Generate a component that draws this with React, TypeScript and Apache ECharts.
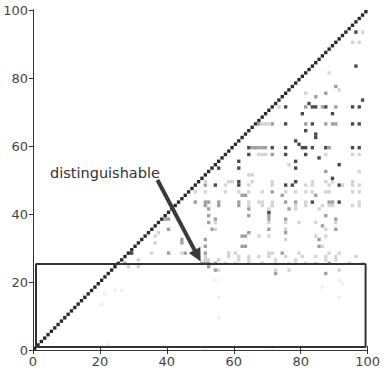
import React, { useEffect, useRef } from "react";
import * as echarts from "echarts";

// Axis ticks
const xTicks = [0, 20, 40, 60, 80, 100];
const yTicks = [0, 20, 40, 60, 80, 100];

// Shade of each cell on the diagonal (i, i), i = 0..99
const diagonalShade: number[] = [
  1, 1, 1, 1, 1, 1, 1, 1, 1, 1, 1, 1, 1, 1, 1, 1, 1, 1, 1, 1,
  1, 1, 1, 1, 1, 1, 1, 1, 1, 1, 1, 1, 1, 1, 1, 1, 1, 1, 1, 1,
  1, 1, 1, 1, 1, 1, 1, 1, 1, 1, 1, 1, 1, 1, 1, 1, 1, 1, 1, 1,
  1, 1, 1, 1, 1, 1, 1, 1, 1, 1, 1, 1, 1, 1, 1, 1, 1, 1, 1, 1,
  1, 1, 1, 1, 1, 1, 1, 1, 1, 1, 1, 1, 1, 1, 1, 1, 1, 1, 1, 1,
];

// Off-diagonal cells [column, row], grouped by shade
const darkCells: [number, number][] = [
  [96, 93], [96, 83], [98, 73], [82, 72], [83, 71], [84, 71], [87, 71], [95, 71], [97, 71], [75, 71],
  [80, 69], [89, 69], [75, 66], [83, 66], [95, 66], [97, 66], [81, 64], [84, 63], [84, 62],
  [64, 59], [71, 59], [75, 59], [80, 59], [81, 59], [83, 59], [87, 59], [95, 59], [97, 59], [78, 61], [79, 60],
  [64, 57], [75, 57], [81, 57], [85, 56], [61, 55], [61, 53], [78, 55], [78, 53], [55, 53], [91, 54], [89, 50],
  [61, 49], [78, 49], [75, 48], [54, 48], [77, 48], [91, 48], [61, 48], [83, 43], [91, 43], [70, 40], [29, 28],
];

const grayCells: [number, number][] = [
  [87, 75], [84, 74], [90, 77], [81, 71], [90, 71], [86, 71],
  [67, 66], [71, 66], [81, 66], [87, 66], [89, 66], [90, 66],
  [65, 59], [66, 59], [67, 59], [68, 59], [69, 59], [88, 59], [71, 57], [87, 52], [51, 48],
  [71, 46], [62, 45], [63, 45], [74, 45], [84, 45],
  [48, 43], [51, 43], [52, 43], [55, 43], [61, 43], [75, 43], [78, 43], [88, 43], [89, 43],
  [55, 42], [51, 42], [61, 42], [52, 41], [64, 41], [76, 41],
  [52, 39], [64, 39], [70, 39], [87, 39], [40, 38], [39, 38], [54, 38], [70, 38], [90, 38], [75, 38],
  [52, 37], [86, 36], [40, 35], [53, 35], [70, 35], [90, 35], [64, 34], [75, 34], [62, 33], [63, 33],
  [44, 32], [51, 32], [85, 32], [62, 30], [63, 30], [51, 30], [85, 30], [44, 31],
  [51, 28], [40, 28], [45, 28], [74, 28], [50, 25], [51, 25], [52, 25], [54, 25], [88, 25],
  [52, 24], [54, 23], [72, 22], [87, 22], [27, 25],
];

const lightCells: [number, number][] = [
  [95, 90], [97, 90], [98, 93], [88, 81], [91, 76], [81, 75], [73, 71], [68, 66], [69, 66], [70, 66],
  [67, 57], [68, 57], [69, 57], [87, 57], [95, 57], [97, 57], [64, 51], [65, 51], [97, 52], [76, 54],
  [51, 49], [58, 49], [59, 49], [65, 49], [71, 49], [83, 49], [87, 49], [89, 49], [95, 49],
  [57, 48], [64, 48], [71, 48], [81, 48], [83, 48], [88, 48], [92, 48], [95, 48], [97, 48],
  [48, 46], [51, 46], [57, 46], [61, 46], [64, 46], [68, 46], [75, 46], [78, 46], [81, 46], [83, 46],
  [87, 46], [88, 46], [95, 46], [97, 46],
  [64, 43], [67, 43], [68, 43], [71, 43], [81, 43], [97, 43],
  [64, 42], [68, 42], [71, 42], [78, 42], [81, 42], [86, 42], [88, 42], [89, 42], [95, 42], [97, 42],
  [70, 41], [78, 41], [85, 41], [54, 37], [70, 37], [75, 37], [79, 37], [84, 37], [90, 37],
  [54, 35], [75, 35], [87, 35], [67, 33], [70, 33], [84, 33], [87, 33], [36, 33], [36, 31], [37, 34],
  [75, 32], [86, 30], [44, 28], [58, 28], [60, 28], [70, 28], [71, 28], [79, 28], [88, 28], [91, 28], [35, 28],
  [51, 27], [58, 27], [61, 27], [64, 27], [67, 27], [70, 27], [75, 27], [80, 27], [84, 27], [87, 27], [90, 27], [96, 27],
  [51, 26], [52, 26], [55, 26], [61, 26], [64, 26], [72, 26], [78, 26], [87, 26], [90, 26], [31, 26],
  [57, 25], [60, 25], [64, 25], [68, 25], [72, 25], [76, 25], [78, 25], [81, 25], [84, 25], [94, 25], [98, 25],
  [28, 24], [31, 24], [55, 23], [72, 23], [76, 23], [91, 23],
];

const faintCells: [number, number][] = [
  [54, 20], [91, 20], [86, 18], [92, 19], [21, 16], [26, 17], [24, 17], [20, 13], [22, 1],
  [55, 15], [55, 9], [91, 15], [51, 0], [71, 0],
];

const DARK = 0.85;
const GRAY = 0.45;
const LIGHT = 0.2;
const FAINT = 0.08;

// Highlighted band and the annotation arrow, in data units
const bandCorners: [number, number][] = [
  [0.9, 0.9], [99.4, 0.9], [99.4, 25.3], [0.9, 25.3], [0.9, 0.9],
];
const arrowFrom: [number, number] = [37.2, 50];
const arrowTo: [number, number] = [49.2, 27.7];
const annotation = "distinguishable";

const FONT = "DejaVu Sans";

export default function App() {
  const ref = useRef<HTMLDivElement>(null);

  useEffect(() => {
    if (!ref.current) return;
    const chart = echarts.init(ref.current, undefined, { renderer: "svg" });

    const cells: [number, number, number][] = [
      ...diagonalShade.map((v, i) => [i, i, v] as [number, number, number]),
      ...darkCells.map(([x, y]) => [x, y, DARK] as [number, number, number]),
      ...grayCells.map(([x, y]) => [x, y, GRAY] as [number, number, number]),
      ...lightCells.map(([x, y]) => [x, y, LIGHT] as [number, number, number]),
      ...faintCells.map(([x, y]) => [x, y, FAINT] as [number, number, number]),
    ];

    const axisLine = { show: true, lineStyle: { color: "#333", width: 1 } };
    const label = { color: "#444", fontSize: 13, fontFamily: FONT, margin: 5 };

    chart.setOption({
      animation: false,
      backgroundColor: "#fff",
      grid: { left: 33, right: 10, top: 10, bottom: 19, containLabel: false },
      xAxis: [
        {
          type: "value", min: xTicks[0], max: xTicks[xTicks.length - 1], interval: 20,
          position: "bottom",
          axisLine, axisTick: { inside: true, length: 4, lineStyle: { color: "#333" } },
          axisLabel: label, splitLine: { show: false },
        },
        {
          type: "value", min: xTicks[0], max: xTicks[xTicks.length - 1], interval: 20,
          position: "top",
          axisLine, axisTick: { inside: true, length: 4, lineStyle: { color: "#333" } },
          axisLabel: { show: false }, splitLine: { show: false },
        },
      ],
      yAxis: [
        {
          type: "value", min: yTicks[0], max: yTicks[yTicks.length - 1], interval: 20,
          position: "left",
          axisLine, axisTick: { inside: false, length: 4, lineStyle: { color: "#333" } },
          axisLabel: label, splitLine: { show: false },
        },
        {
          type: "value", min: yTicks[0], max: yTicks[yTicks.length - 1], interval: 20,
          position: "right",
          axisLine, axisTick: { inside: true, length: 4, lineStyle: { color: "#333" } },
          axisLabel: { show: false }, splitLine: { show: false },
        },
      ],
      visualMap: {
        show: false, type: "continuous", min: 0, max: 1, dimension: 2, seriesIndex: 0,
        inRange: { color: ["#ffffff", "#2a2a2a"] },
      },
      series: [
        {
          type: "custom",
          xAxisIndex: 0, yAxisIndex: 0,
          encode: { x: 0, y: 1 },
          data: cells,
          clip: true,
          renderItem: (params: any, api: any) => {
            const x = api.value(0);
            const y = api.value(1);
            const p0 = api.coord([x, y + 1]);
            const p1 = api.coord([x + 1, y]);
            return {
              type: "rect",
              shape: { x: p0[0], y: p0[1], width: p1[0] - p0[0], height: p1[1] - p0[1] },
              style: { fill: api.visual("color") },
            };
          },
          silent: true,
          z: 2,
        },
        {
          type: "line",
          xAxisIndex: 0, yAxisIndex: 0,
          data: bandCorners,
          symbol: "none",
          lineStyle: { color: "#333", width: 2 },
          silent: true,
          z: 4,
        },
        {
          type: "lines",
          coordinateSystem: "cartesian2d",
          xAxisIndex: 0, yAxisIndex: 0,
          symbol: ["none", "triangle"],
          symbolSize: [11, 13],
          lineStyle: { color: "#3a3a3a", width: 4, opacity: 1, curveness: 0 },
          data: [{ coords: [arrowFrom, arrowTo] }],
          silent: true,
          z: 5,
        },
      ],
      graphic: [
        {
          type: "text",
          left: 50,
          top: 165,
          style: { text: annotation, font: `14.5px "${FONT}"`, fill: "#333" },
          silent: true,
        },
      ],
    });

    return () => chart.dispose();
  }, []);

  return (
    <div
      ref={ref}
      style={{ position: "fixed", left: 0, top: 0, width: 383, height: 369 }}
    />
  );
}
